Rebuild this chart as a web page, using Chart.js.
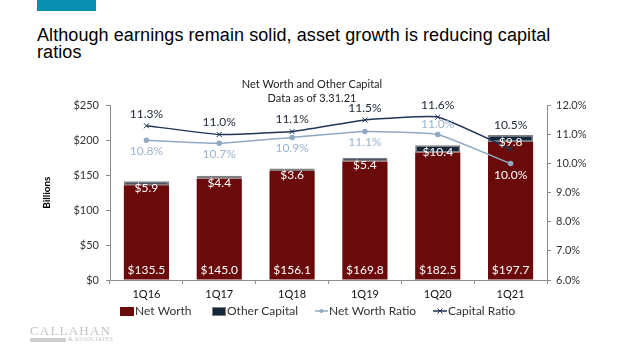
<!DOCTYPE html>
<html>
<head>
<meta charset="utf-8">
<script src="https://cdn.jsdelivr.net/npm/chart.js@4"></script>
<style>
  html, body { margin: 0; padding: 0; background: #fff; }
  body { width: 624px; height: 351px; position: relative; overflow: hidden; }
  #band { position: absolute; left: 37px; top: 0; width: 59px; height: 11px; background: #0a8fb1; }
  #heading {
    position: absolute; left: 37px; top: 27px; width: 545px;
    font-family: "Liberation Sans", Arial, sans-serif; font-size: 18px; line-height: 17px;
    letter-spacing: 0.08px; color: #000;
  }
  #chart { position: absolute; left: 0; top: 0; }
  #logo { position: absolute; left: 30px; top: 325px; width: 80px; color: #c4c4c4; white-space: nowrap; }
  #logo .name { font-family: "Liberation Serif", serif; font-size: 13px; letter-spacing: 1.2px; line-height: 11px; }
  #logo .sub { position: relative; height: 5px; margin-top: 1px; }
  #logo .bar { position: absolute; left: 0; top: 1px; width: 36px; height: 4px; background: #cfcfcf; }
  #logo .amp { position: absolute; left: 38px; top: -1px; font-family: "Liberation Serif", serif; font-size: 6px; letter-spacing: 0.3px; }
</style>
</head>
<body>
<div id="band"></div>
<div id="heading">Although earnings remain solid, asset growth is reducing capital ratios</div>
<canvas id="chart" width="624" height="351"></canvas>
<div id="logo"><div class="name">CALLAHAN</div><div class="sub"><div class="bar"></div><div class="amp">&amp; ASSOCIATES</div></div></div>
<script>
const quarters = ['1Q16', '1Q17', '1Q18', '1Q19', '1Q20', '1Q21'];
const netWorth = [135.5, 145.0, 156.1, 169.8, 182.5, 197.7];
const otherCapital = [5.9, 4.4, 3.6, 5.4, 10.4, 9.8];
const netWorthRatio = [10.8, 10.7, 10.9, 11.1, 11.0, 10.0];
const capitalRatio = [11.3, 11.0, 11.1, 11.5, 11.6, 10.5];

const RED = '#6b0a0a';
const NAVY = '#16263a';
const LIGHT = '#8fa9c2';
const DARK = '#1f3657';
const FONT = 'Lato, "Liberation Sans", sans-serif';

// where each ratio label sits relative to its point (negative = above)
const nwLabelShift = [11, 11, 11, 11, -10, 12];
const capLabelShift = [-12, -12, -12, -12, -12, -24];

const labelPlugin = {
    id: 'valueLabels',
    afterDatasetsDraw(chart) {
        const ctx = chart.ctx;
        ctx.save();
        ctx.textAlign = 'center';
        ctx.textBaseline = 'middle';
        ctx.font = '12px ' + FONT;
        chart.data.datasets.forEach((ds, i) => {
            const meta = chart.getDatasetMeta(i);
            meta.data.forEach((el, j) => {
                const v = ds.data[j];
                if (ds.label === 'Net Worth') {
                    ctx.fillStyle = '#fff';
                    ctx.fillText('$' + v.toFixed(1), el.x, el.base - 9);
                } else if (ds.label === 'Other Capital') {
                    ctx.fillStyle = '#fff';
                    ctx.fillText('$' + v.toFixed(1), el.x, el.y + 7);
                } else if (ds.label === 'Net Worth Ratio') {
                    ctx.fillStyle = j === 5 ? '#fff' : '#9bb4cf';
                    ctx.fillText(v.toFixed(1) + '%', el.x, el.y + nwLabelShift[j]);
                } else {
                    ctx.fillStyle = '#1a2535';
                    ctx.fillText(v.toFixed(1) + '%', el.x, el.y + capLabelShift[j]);
                }
            });
        });
        ctx.restore();
    },
    afterDraw(chart) {
        // Excel-style legend: boxes for bars, line + marker for ratios
        const ctx = chart.ctx;
        const y = 311;
        ctx.save();
        ctx.font = '12px ' + FONT;
        ctx.textBaseline = 'middle';
        ctx.fillStyle = RED;
        ctx.fillRect(120, y - 4, 14, 9);
        ctx.fillStyle = NAVY;
        ctx.fillRect(212, y - 4, 14, 9);
        ctx.strokeStyle = '#808080';
        ctx.lineWidth = 1;
        ctx.strokeRect(212.5, y - 3.5, 13, 8);

        ctx.lineWidth = 1.5;
        ctx.strokeStyle = LIGHT;
        ctx.beginPath(); ctx.moveTo(315, y); ctx.lineTo(328, y); ctx.stroke();
        ctx.fillStyle = LIGHT;
        ctx.beginPath(); ctx.arc(321.5, y, 2, 0, Math.PI * 2); ctx.fill();

        ctx.strokeStyle = DARK;
        ctx.beginPath(); ctx.moveTo(433, y); ctx.lineTo(447, y); ctx.stroke();
        ctx.lineWidth = 1;
        ctx.beginPath();
        ctx.moveTo(437.5, y - 2.5); ctx.lineTo(442.5, y + 2.5);
        ctx.moveTo(442.5, y - 2.5); ctx.lineTo(437.5, y + 2.5);
        ctx.stroke();

        ctx.fillStyle = '#333';
        ctx.fillText('Net Worth', 135, y);
        ctx.fillText('Other Capital', 227, y);
        ctx.fillText('Net Worth Ratio', 329, y);
        ctx.fillText('Capital Ratio', 448, y);
        ctx.restore();
    }
};

new Chart(document.getElementById('chart'), {
    type: 'bar',
    data: {
        labels: quarters,
        datasets: [
            {
                label: 'Net Worth',
                data: netWorth,
                backgroundColor: RED,
                stack: 'cap',
                order: 2,
                categoryPercentage: 1,
                barPercentage: 0.62
            },
            {
                label: 'Other Capital',
                data: otherCapital,
                backgroundColor: NAVY,
                borderColor: '#7f7f7f',
                borderWidth: 1.5,
                borderSkipped: false,
                stack: 'cap',
                order: 2,
                categoryPercentage: 1,
                barPercentage: 0.62
            },
            {
                type: 'line',
                label: 'Net Worth Ratio',
                data: netWorthRatio,
                yAxisID: 'y1',
                borderColor: LIGHT,
                backgroundColor: LIGHT,
                borderWidth: 1.5,
                pointRadius: 2,
                pointStyle: 'circle',
                tension: 0.12,
                order: 1
            },
            {
                type: 'line',
                label: 'Capital Ratio',
                data: capitalRatio,
                yAxisID: 'y1',
                borderColor: DARK,
                backgroundColor: DARK,
                borderWidth: 1.5,
                pointRadius: 3.5,
                pointBorderWidth: 1,
                pointStyle: 'crossRot',
                tension: 0.12,
                order: 0
            }
        ]
    },
    options: {
        responsive: false,
        animation: false,
        layout: { padding: { top: 78, left: 0, right: 0, bottom: 0 } },
        plugins: {
            legend: { display: false },
            tooltip: { enabled: false },
            title: {
                display: true,
                text: 'Net Worth and Other Capital',
                color: '#222',
                font: { family: FONT, size: 11, weight: 'normal' },
                padding: { top: 0, bottom: 1 }
            },
            subtitle: {
                display: true,
                text: 'Data as of 3.31.21',
                color: '#222',
                font: { family: FONT, size: 11 },
                padding: { top: 0, bottom: 0 }
            }
        },
        scales: {
            x: {
                stacked: true,
                grid: { display: true, drawOnChartArea: false, tickLength: 4, color: '#8c8c8c' },
                border: { color: '#8c8c8c', width: 1 },
                ticks: { color: '#111', font: { family: FONT, size: 11 }, padding: 4 },
                afterFit: s => { s.height = 71; }
            },
            y: {
                stacked: true,
                min: 0,
                max: 250,
                ticks: {
                    stepSize: 50,
                    padding: 7,
                    color: '#333',
                    font: { family: FONT, size: 11 },
                    callback: v => '$' + v
                },
                grid: { drawOnChartArea: false, tickLength: 4, color: '#8c8c8c' },
                border: { color: '#8c8c8c', width: 1 },
                title: {
                    display: true,
                    text: 'Billions',
                    color: '#000',
                    font: { family: FONT, size: 10, weight: 'bold' },
                    padding: { top: 41, bottom: 0 }
                },
                afterFit: s => { s.width = 110; }
            },
            y1: {
                position: 'right',
                min: 6,
                max: 12,
                ticks: {
                    stepSize: 1,
                    padding: 5,
                    color: '#333',
                    font: { family: FONT, size: 11 },
                    callback: v => v.toFixed(1) + '%'
                },
                grid: { drawOnChartArea: false, tickLength: 4, color: '#8c8c8c' },
                border: { color: '#8c8c8c', width: 1 },
                afterFit: s => { s.width = 77; }
            }
        }
    },
    plugins: [labelPlugin]
});
</script>
</body>
</html>
